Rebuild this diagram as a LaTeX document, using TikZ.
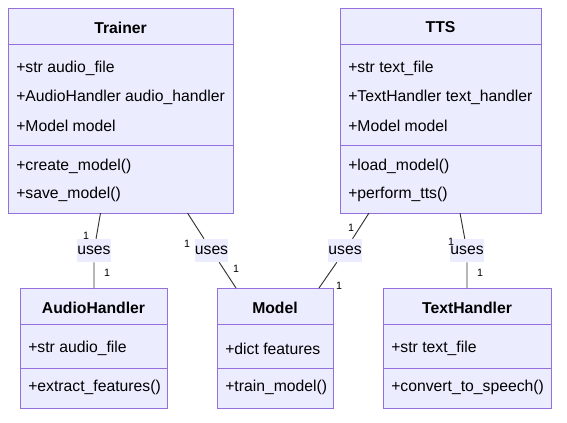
\documentclass[tikz,border=0pt]{standalone}
\usepackage{fontspec}
\setmainfont{Liberation Sans}
\usetikzlibrary{arrows.meta, positioning, calc}
\definecolor{classfill}{HTML}{ECECFF}
\definecolor{classline}{HTML}{9370DB}
\definecolor{edgegray}{HTML}{333333}
\tikzset{
    % Class boxes
    classbox/.style={rectangle, draw=classline, fill=classfill, line width=0.75pt, inner sep=0pt},
    cname/.style={inner sep=0pt, font=\fontsize{11.8}{14}\selectfont\bfseries},
    cmember/.style={anchor=west, inner sep=0pt, font=\fontsize{11.8}{14}\selectfont},
    csep/.style={draw=classline, line width=0.75pt},
    % Relations
    uline/.style={draw=edgegray, line width=0.7pt},
    ulbl/.style={rectangle, fill=classfill, inner sep=0pt, minimum width=24.75pt,
                minimum height=17.25pt, font=\fontsize{11.8}{14}\selectfont},
    mult/.style={inner sep=0pt, font=\fontsize{8}{10}\selectfont},
}
\begin{document}
\begin{tikzpicture}[x=0.75pt, y=-0.75pt]
\useasboundingbox[fill=white] (0,0) rectangle (567,422);

% Trainer
\node[classbox, minimum width=168.75pt, minimum height=153.75pt] (trainer) at (120.5,110.5) {};
\node[cname] (trainer-name) at (120.5,27.5) {Trainer};
\draw[csep] (trainer.west |- 0,44) -- (trainer.east |- 0,44);
\node[cmember] (trainer-a1) at (16,68.5)  {+str audio\_file};
\node[cmember] (trainer-a2) at (16,97)  {+AudioHandler audio\_handler};
\node[cmember] (trainer-a3) at (16,125.5) {+Model model};
\draw[csep] (trainer.west |- 0,145) -- (trainer.east |- 0,145);
\node[cmember] (trainer-m1) at (16,166.5) {+create\_model()};
\node[cmember] (trainer-m2) at (16,194.5) {+save\_model()};

% TTS
\node[classbox, minimum width=150.75pt, minimum height=153.75pt] (tts) at (440.5,110.5) {};
\node[cname] (tts-name) at (440.5,27.5) {TTS};
\draw[csep] (tts.west |- 0,44) -- (tts.east |- 0,44);
\node[cmember] (tts-a1) at (348,68.5)  {+str text\_file};
\node[cmember] (tts-a2) at (348,97)  {+TextHandler text\_handler};
\node[cmember] (tts-a3) at (348,125.5) {+Model model};
\draw[csep] (tts.west |- 0,145) -- (tts.east |- 0,145);
\node[cmember] (tts-m1) at (348,166.5) {+load\_model()};
\node[cmember] (tts-m2) at (348,194.5) {+perform\_tts()};

% AudioHandler
\node[classbox, minimum width=110.25pt, minimum height=90pt] (audio) at (93.5,348) {};
\node[cname] (audio-name) at (93.5,307.5) {AudioHandler};
\draw[csep] (audio.west |- 0,324) -- (audio.east |- 0,324);
\node[cmember] (audio-a1) at (28,348.5) {+str audio\_file};
\draw[csep] (audio.west |- 0,368) -- (audio.east |- 0,368);
\node[cmember] (audio-m1) at (28,387.5) {+extract\_features()};

% Model
\node[classbox, minimum width=87pt, minimum height=90pt] (model) at (275,348) {};
\node[cname] (model-name) at (275,307.5) {Model};
\draw[csep] (model.west |- 0,324) -- (model.east |- 0,324);
\node[cmember] (model-a1) at (225,348.5) {+dict features};
\draw[csep] (model.west |- 0,368) -- (model.east |- 0,368);
\node[cmember] (model-m1) at (225,387.5) {+train\_model()};

% TextHandler
\node[classbox, minimum width=126pt, minimum height=90pt] (text) at (467,348) {};
\node[cname] (text-name) at (467,307.5) {TextHandler};
\draw[csep] (text.west |- 0,324) -- (text.east |- 0,324);
\node[cmember] (text-a1) at (391,348.5) {+str text\_file};
\draw[csep] (text.west |- 0,368) -- (text.east |- 0,368);
\node[cmember] (text-m1) at (391,387.5) {+convert\_to\_speech()};

% uses relations
\coordinate (ta-s) at (100.5,213);
\coordinate (ta-e) at (94,288);
\coordinate (tm-s) at (187.5,213);
\coordinate (tm-e) at (236,288);
\coordinate (sm-s) at (369,213);
\coordinate (sm-e) at (319,288);
\coordinate (sx-s) at (460,213);
\coordinate (sx-e) at (467,288);

\node[ulbl] (ta-lbl) at (94,250.5)  {uses};
\node[ulbl] (tm-lbl) at (211.5,250.5) {uses};
\node[ulbl] (sm-lbl) at (345,250.5) {uses};
\node[ulbl] (sx-lbl) at (467,250.5) {uses};

\draw[uline] (ta-s) -- (ta-lbl) -- (ta-e);
\draw[uline] (tm-s) -- (tm-lbl) -- (tm-e);
\draw[uline] (sm-s) -- (sm-lbl) -- (sm-e);
\draw[uline] (sx-s) -- (sx-lbl) -- (sx-e);

\node[mult] (ta-m1) at (86,236)  {1};
\node[mult] (ta-m2) at (107,273) {1};
\node[mult] (tm-m1) at (187,244) {1};
\node[mult] (tm-m2) at (236,269) {1};
\node[mult] (sm-m1) at (351,228) {1};
\node[mult] (sm-m2) at (339,286) {1};
\node[mult] (sx-m1) at (451,242) {1};
\node[mult] (sx-m2) at (480,273) {1};
\end{tikzpicture}
\end{document}
